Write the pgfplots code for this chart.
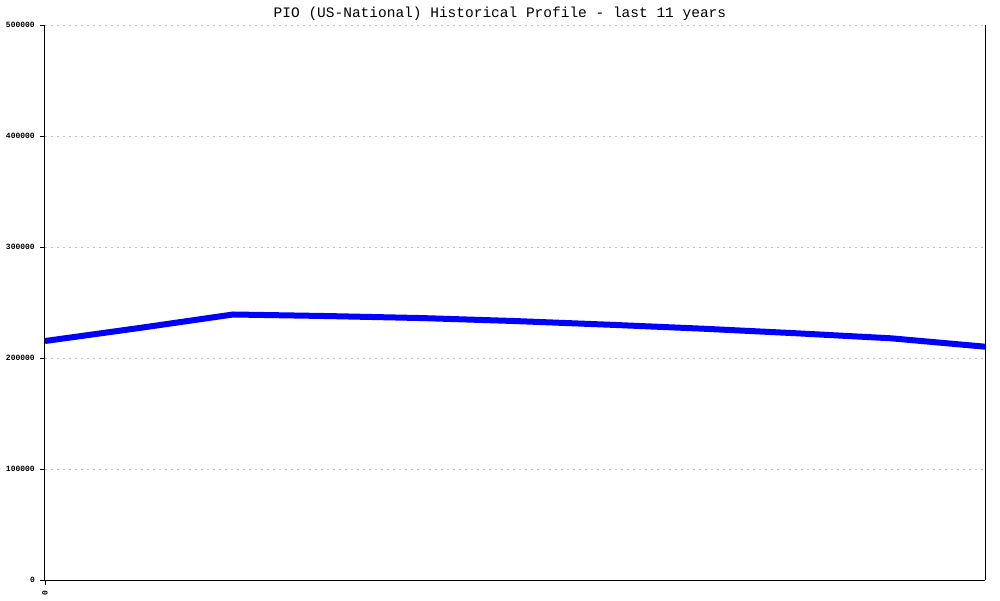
\documentclass[border=0pt]{standalone}
\usepackage{pgfplots}
\pgfplotsset{compat=1.18}
\usepackage{fontspec}
\setmainfont{Liberation Mono}
\begin{document}
\begin{tikzpicture}
\path[use as bounding box] (-45pt,-20pt) rectangle (955pt,580pt);
\begin{axis}[
  scale only axis,
  width=940pt, height=555pt,
  anchor=south west, at={(0pt,0pt)},
  xmin=0, xmax=10, ymin=0, ymax=500000,
  axis x line*=bottom, axis y line*=left,
  axis line style={black, line width=1pt, -},
  xtick={0}, xticklabels={0},
  xticklabel style={rotate=90, anchor=east, font=\fontsize{8}{9}\selectfont\bfseries, inner sep=1pt, xshift=-4pt},
  ytick={0,100000,200000,300000,400000,500000},
  yticklabels={0,100000,200000,300000,400000,500000},
  yticklabel style={font=\fontsize{8}{9}\selectfont\bfseries, inner sep=1pt, xshift=-4pt},
  scaled y ticks=false,
  tick align=outside, major tick length=5pt,
  tick style={black, line width=0.8pt},
  ymajorgrids, grid style={gray!50, line width=0.8pt, dash pattern=on 2pt off 4pt},
  title={PIO (US-National) Historical Profile - last 11 years},
  title style={at={(rel axis cs:0.484,1)}, anchor=center, yshift=5pt, font=\fontsize{14.5}{16}\selectfont},
  clip=false,
]
\addplot[blue, line width=6pt, line join=round] coordinates {
(0,215300) (1,227000) (2,239200) (3,237800) (4,236000) (5,233300)
(6,230000) (7,226400) (8,222250) (9,217750) (10,210200)
};
\draw[black, line width=1pt] (rel axis cs:1,0) -- (rel axis cs:1,1);
\end{axis}
\end{tikzpicture}
\end{document}
